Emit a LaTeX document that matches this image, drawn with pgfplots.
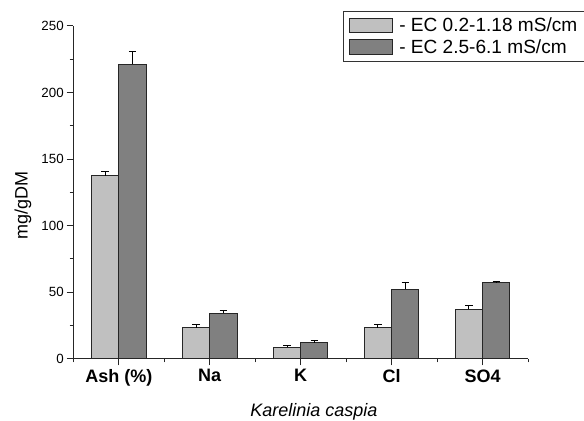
\documentclass[border=0pt]{standalone}
\usepackage{pgfplots}
\pgfplotsset{compat=1.18}
\usepackage{fontspec}
\setmainfont{Liberation Sans}
\definecolor{lgray}{RGB}{192,192,192}
\definecolor{dgray}{RGB}{128,128,128}
\begin{document}
\begin{tikzpicture}
\begin{axis}[
  at={(0,0)}, anchor=south west,
  scale only axis, width=341pt, height=249.5pt,
  xmin=-0.5, xmax=4.5, ymin=0, ymax=250,
  axis x line=bottom, axis y line=left,
  axis line style={-, line width=0.75pt, black!85},
  tick style={line width=0.75pt, black!85},
  tick align=outside,
  major tick length=5pt, minor tick length=2.7pt,
  xtick={0,1,2,3,4},
  xticklabels={Ash (\%),Na,K,Cl,SO4},
  minor xtick={-0.5,0.5,1.5,2.5,3.5,4.5},
  ytick={0,50,100,150,200,250},
  minor ytick={25,75,125,175,225},
  /pgf/number format/assume math mode=true,
  yticklabel style={font=\fontsize{10}{12}\selectfont, inner sep=2pt},
  xticklabel style={font=\fontsize{13.5}{16}\bfseries\selectfont, inner sep=1pt, yshift=-2pt},
  ylabel={mg/gDM},
  ylabel style={font=\fontsize{13.5}{16}\selectfont, at={(axis description cs:-0.1007,0.461)}, anchor=base},
  xlabel={\itshape Karelinia caspia},
  xlabel style={font=\fontsize{13.5}{16}\selectfont, at={(axis description cs:0.529,-0.174)}, anchor=base},
  ybar=0pt, bar width=0.3,
  legend style={at={(axis description cs:0.594,1.046)}, anchor=north west,
    draw=black!80, line width=0.75pt, inner xsep=4pt, inner ysep=3pt,
    font=\fontsize{14.3}{17}\selectfont, row sep=1pt,
    nodes={inner sep=1.8pt},
    /tikz/every odd column/.append style={column sep=3pt}},
  legend cell align=left,
  legend image code/.code={\draw[#1, line width=0.75pt] (0pt,-5.6pt) rectangle (32pt,5.6pt);},
  error bars/y dir=plus, error bars/y explicit,
  error bars/error bar style={line width=0.75pt, black},
  error bars/error mark options={line width=0.75pt, black, mark size=2.75pt, rotate=90},
]
\addplot[fill=lgray, draw=black!85, line width=0.75pt, bar shift=-0.15]
  coordinates {(0,137.5) +- (0,3.5) (1,23.1) +- (0,2.7) (2,8.5) +- (0,1.3) (3,23.3) +- (0,2.2) (4,37.1) +- (0,2.5)};
\addplot[fill=dgray, draw=black!85, line width=0.75pt, bar shift=0.15]
  coordinates {(0,221.2) +- (0,9.5) (1,34.1) +- (0,2.3) (2,12.0) +- (0,1.3) (3,52.1) +- (0,5.5) (4,57.1) +- (0,1.0)};
\legend{- EC 0.2-1.18 mS/cm, - EC 2.5-6.1 mS/cm}
\end{axis}
\pgfresetboundingbox
\path[use as bounding box] (-55pt,-46.7pt) rectangle (383pt,269pt);
\end{tikzpicture}
\end{document}
